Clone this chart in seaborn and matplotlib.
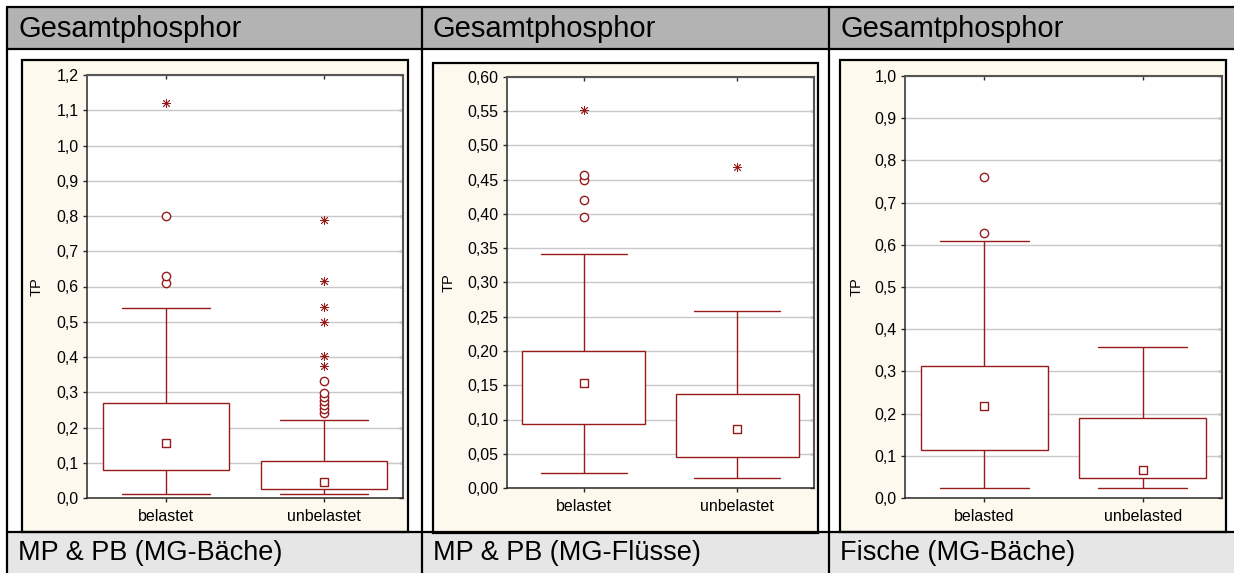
import numpy as np
import pandas as pd
import matplotlib
matplotlib.use("Agg")
import matplotlib.pyplot as plt
from matplotlib.patches import Rectangle
from matplotlib.lines import Line2D
from matplotlib.ticker import FuncFormatter, MultipleLocator
import seaborn as sns

sns.set_style("white")
plt.rcParams["font.family"] = ["Liberation Sans", "DejaVu Sans"]

header_title = "Gesamtphosphor"
y_label = "TP"

# Panel 1: MP & PB (MG-Bäche)
baeche_groups = ["belastet", "unbelastet"]
# lower whisker, lower quartile, median, upper quartile, upper whisker
baeche_belastet = [0.010, 0.080, 0.155, 0.270, 0.540]
baeche_unbelastet = [0.010, 0.026, 0.046, 0.105, 0.221]
baeche_belastet_outliers = [0.61, 0.63, 0.80]
baeche_belastet_extremes = [1.12]
baeche_unbelastet_outliers = [0.241, 0.252, 0.264, 0.275, 0.287, 0.299, 0.332]
baeche_unbelastet_extremes = [0.375, 0.404, 0.500, 0.543, 0.616, 0.789]

# Panel 2: MP & PB (MG-Flüsse)
fluesse_groups = ["belastet", "unbelastet"]
fluesse_belastet = [0.022, 0.093, 0.154, 0.200, 0.342]
fluesse_unbelastet = [0.014, 0.045, 0.086, 0.137, 0.258]
fluesse_belastet_outliers = [0.395, 0.420, 0.450, 0.457]
fluesse_belastet_extremes = [0.552]
fluesse_unbelastet_outliers = []
fluesse_unbelastet_extremes = [0.469]

# Panel 3: Fische (MG-Bäche)
fische_groups = ["belasted", "unbelasted"]
fische_belasted = [0.024, 0.114, 0.219, 0.313, 0.609]
fische_unbelasted = [0.024, 0.047, 0.066, 0.190, 0.357]
fische_belasted_outliers = [0.627, 0.760]
fische_belasted_extremes = []
fische_unbelasted_outliers = []
fische_unbelasted_extremes = []

panels = [
    dict(footer="MP & PB (MG-Bäche)", groups=baeche_groups,
         summaries=[baeche_belastet, baeche_unbelastet],
         outliers=[baeche_belastet_outliers, baeche_unbelastet_outliers],
         extremes=[baeche_belastet_extremes, baeche_unbelastet_extremes],
         ymax=1.2, step=0.1, decimals=1),
    dict(footer="MP & PB (MG-Flüsse)", groups=fluesse_groups,
         summaries=[fluesse_belastet, fluesse_unbelastet],
         outliers=[fluesse_belastet_outliers, fluesse_unbelastet_outliers],
         extremes=[fluesse_belastet_extremes, fluesse_unbelastet_extremes],
         ymax=0.6, step=0.05, decimals=2),
    dict(footer="Fische (MG-Bäche)", groups=fische_groups,
         summaries=[fische_belasted, fische_unbelasted],
         outliers=[fische_belasted_outliers, fische_unbelasted_outliers],
         extremes=[fische_belasted_extremes, fische_unbelasted_extremes],
         ymax=1.0, step=0.1, decimals=1),
]

# ---- layout (pixels) ----
W, H = 1234, 573
RED = "#981b1b"
INK = "#2a2a2a"

col_left = [7, 422, 829]
frames = [(22, 60, 408, 532), (433, 63, 818, 533), (840, 60, 1226, 532)]
axes_px = [(87, 75, 403, 498), (507, 77, 814, 488), (905, 76, 1222, 498)]
ylabel_x = [37, 449, 857]


def fx(x):
    return x / W


def fy(y):
    return 1 - y / H


fig = plt.figure(figsize=(W / 100, H / 100), dpi=100, facecolor="white")

# table backgrounds
fig.add_artist(Rectangle((fx(7), fy(49)), fx(W) - fx(7), (49 - 7) / H,
                         transform=fig.transFigure, facecolor="#b3b3b3",
                         edgecolor="none", zorder=-3))
fig.add_artist(Rectangle((fx(7), fy(H)), fx(W) - fx(7), (H - 532) / H,
                         transform=fig.transFigure, facecolor="#e6e6e6",
                         edgecolor="none", zorder=-3))

# table rules
for y in (7, 49, 532):
    fig.add_artist(Line2D([fx(7), fx(W)], [fy(y), fy(y)], transform=fig.transFigure,
                          color="black", lw=1.6, zorder=-1))
for x in (7, 422, 829):
    fig.add_artist(Line2D([fx(x), fx(x)], [fy(7), fy(H)], transform=fig.transFigure,
                          color="black", lw=1.6, zorder=-1))

for i, p in enumerate(panels):
    # header and footer cells
    fig.text(fx(col_left[i] + 11), fy(29), header_title, fontsize=21,
             ha="left", va="center", color="black")
    fig.text(fx(col_left[i] + 11), fy(553), p["footer"], fontsize=19.5,
             ha="left", va="center", color="black")

    # cream plot frame
    l, t, r, b = frames[i]
    fig.add_artist(Rectangle((fx(l), fy(b)), (r - l) / W, (b - t) / H,
                             transform=fig.transFigure, facecolor="#fdf9ee",
                             edgecolor="black", lw=1.6, zorder=-2))

    l, t, r, b = axes_px[i]
    ax = fig.add_axes([fx(l), fy(b), (r - l) / W, (b - t) / H])
    ax.set_facecolor("white")

    groups = p["groups"]
    box_df = pd.DataFrame({
        "group": np.repeat(groups, [len(s) for s in p["summaries"]]),
        "value": np.concatenate(p["summaries"]),
    })
    sns.boxplot(data=box_df, x="group", y="value", order=groups, whis=(0, 100),
                width=0.8, color="white", linecolor=RED, linewidth=1.0,
                showfliers=False, medianprops={"visible": False},
                capwidths=0.56, ax=ax)

    # median markers
    med_df = pd.DataFrame({"group": groups, "value": [s[2] for s in p["summaries"]]})
    sns.stripplot(data=med_df, x="group", y="value", order=groups, jitter=False,
                  marker="s", size=5.5, color="white", edgecolor=RED, linewidth=1.0,
                  ax=ax, zorder=5)

    # outliers (circles)
    out_df = pd.DataFrame({
        "group": np.repeat(groups, [len(o) for o in p["outliers"]]),
        "value": np.concatenate([np.asarray(o, float) for o in p["outliers"]]),
    })
    if len(out_df):
        sns.stripplot(data=out_df, x="group", y="value", order=groups, jitter=False,
                      marker="o", size=6, color="white", edgecolor=RED,
                      linewidth=1.0, ax=ax, zorder=5)

    # extremes (asterisks)
    ext_df = pd.DataFrame({
        "group": np.repeat(groups, [len(e) for e in p["extremes"]]),
        "value": np.concatenate([np.asarray(e, float) for e in p["extremes"]]),
    })
    if len(ext_df):
        sns.stripplot(data=ext_df, x="group", y="value", order=groups, jitter=False,
                      marker=(8, 2, 0), size=6, color=RED, linewidth=0.6,
                      ax=ax, zorder=5)

    ax.set_xlim(-0.5, 1.5)
    ax.set_ylim(0, p["ymax"])
    ax.yaxis.set_major_locator(MultipleLocator(p["step"]))
    dec = p["decimals"]
    ax.yaxis.set_major_formatter(FuncFormatter(lambda v, pos, d=dec: f"{v:.{d}f}".replace(".", ",")))
    ax.grid(axis="y", color="#c8c8c8", lw=1.0)
    ax.grid(axis="x", visible=False)
    ax.set_axisbelow(True)

    ax.set_xlabel("")
    ax.set_ylabel(y_label, fontsize=10.5, color="black")
    ax.yaxis.label.set_va("center")
    ax.yaxis.set_label_coords((ylabel_x[i] - l) / (r - l), 0.5)

    ax.tick_params(axis="both", direction="out", length=3, width=1, color=INK,
                   labelsize=11.5, labelcolor="black", left=True, bottom=True)
    ax.tick_params(axis="y", pad=3)
    ax.tick_params(axis="x", pad=5)
    for side in ("left", "bottom"):
        ax.spines[side].set_color(INK)
        ax.spines[side].set_linewidth(1.1)
    for side in ("top", "right"):
        ax.spines[side].set_color("#555555")
        ax.spines[side].set_linewidth(1.5)

    # inward ticks on the right and top edges
    sec_y = ax.secondary_yaxis("right")
    sec_y.set_yticks(np.arange(0, p["ymax"] + 1e-9, p["step"]))
    sec_y.tick_params(direction="in", length=3, width=1, color=INK, labelright=False)
    for s in sec_y.spines.values():
        s.set_visible(False)
    sec_x = ax.secondary_xaxis("top")
    sec_x.set_xticks([0, 1])
    sec_x.tick_params(direction="in", length=3, width=1, color=INK, labeltop=False)
    for s in sec_x.spines.values():
        s.set_visible(False)

fig.savefig("out.png", dpi=100, facecolor="white")
